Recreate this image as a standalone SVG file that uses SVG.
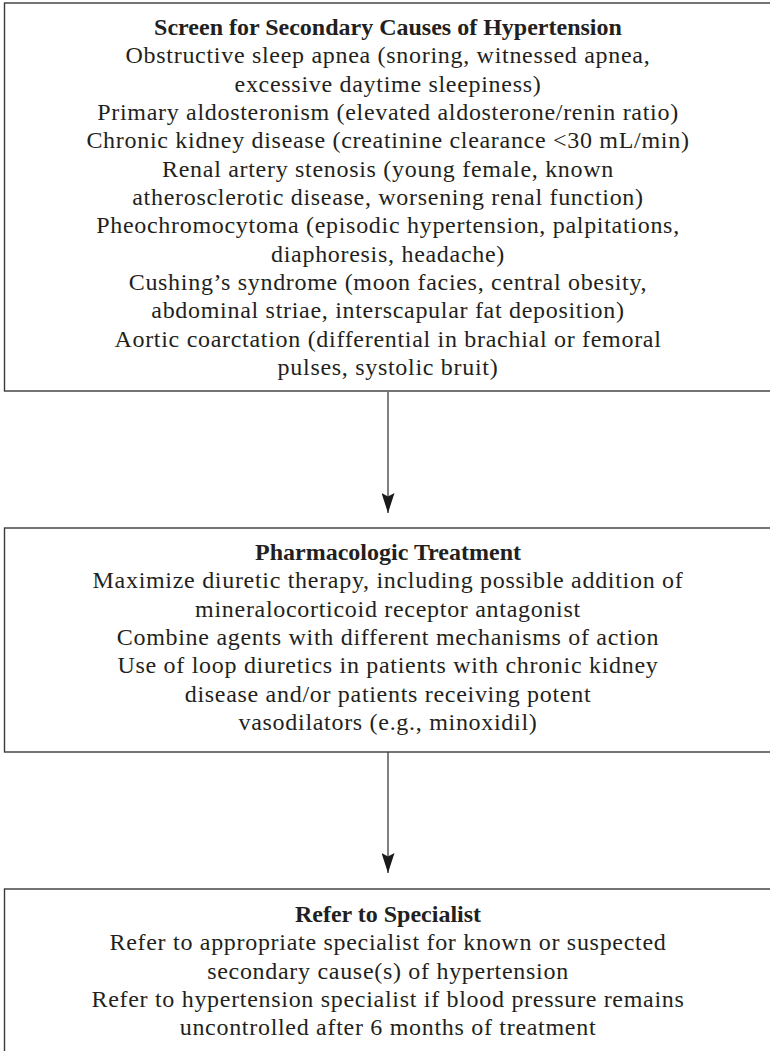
<svg xmlns="http://www.w3.org/2000/svg" width="770" height="1051" viewBox="0 0 770 1051">
<style>
.box{fill:#fff;stroke:#3a3a3a;stroke-width:1.4}
text{font-family:"Liberation Serif","Times New Roman",serif;font-size:24px;fill:#231f20;text-anchor:middle;letter-spacing:0.7px}
.t{font-weight:bold;letter-spacing:0}
.conn{stroke:#4a4a4a;stroke-width:1.4;fill:none}
</style>
<defs>
<marker id="ah" markerWidth="20" markerHeight="13" refX="20" refY="6.5" orient="auto" markerUnits="userSpaceOnUse" viewBox="0 0 20 13">
<path d="M0,0 L20,6.5 L0,13 L3.5,6.5 Z" fill="#1a1a1a"/>
</marker>
</defs>
<rect width="770" height="1051" fill="#fff"/>
<g id="connectors">
<line class="conn" x1="388" y1="392" x2="388" y2="513" marker-end="url(#ah)"/>
<line class="conn" x1="388" y1="752" x2="388" y2="873" marker-end="url(#ah)"/>
</g>
<g id="screen">
<rect class="box" x="4.5" y="3" width="780" height="388"/>
<text class="t" x="388" y="35">Screen for Secondary Causes of Hypertension</text>
<text x="388" y="63.3">Obstructive sleep apnea (snoring, witnessed apnea,</text>
<text x="388" y="91.7">excessive daytime sleepiness)</text>
<text x="388" y="120">Primary aldosteronism (elevated aldosterone/renin ratio)</text>
<text x="388" y="148.3">Chronic kidney disease (creatinine clearance &lt;30 mL/min)</text>
<text x="388" y="176.7">Renal artery stenosis (young female, known</text>
<text x="388" y="205">atherosclerotic disease, worsening renal function)</text>
<text x="388" y="233.3">Pheochromocytoma (episodic hypertension, palpitations,</text>
<text x="388" y="261.7">diaphoresis, headache)</text>
<text x="388" y="290">Cushing’s syndrome (moon facies, central obesity,</text>
<text x="388" y="318.3">abdominal striae, interscapular fat deposition)</text>
<text x="388" y="346.7">Aortic coarctation (differential in brachial or femoral</text>
<text x="388" y="375">pulses, systolic bruit)</text>
</g>
<g id="pharmacologic">
<rect class="box" x="4.5" y="528" width="780" height="224"/>
<text class="t" x="388" y="560">Pharmacologic Treatment</text>
<text x="388" y="588.3">Maximize diuretic therapy, including possible addition of</text>
<text x="388" y="616.7">mineralocorticoid receptor antagonist</text>
<text x="388" y="645">Combine agents with different mechanisms of action</text>
<text x="388" y="673.3">Use of loop diuretics in patients with chronic kidney</text>
<text x="388" y="701.7">disease and/or patients receiving potent</text>
<text x="388" y="730">vasodilators (e.g., minoxidil)</text>
</g>
<g id="specialist">
<rect class="box" x="4.5" y="889" width="780" height="200"/>
<text class="t" x="388" y="922">Refer to Specialist</text>
<text x="388" y="950.3">Refer to appropriate specialist for known or suspected</text>
<text x="388" y="978.6">secondary cause(s) of hypertension</text>
<text x="388" y="1007">Refer to hypertension specialist if blood pressure remains</text>
<text x="388" y="1035.3">uncontrolled after 6 months of treatment</text>
</g>
</svg>
